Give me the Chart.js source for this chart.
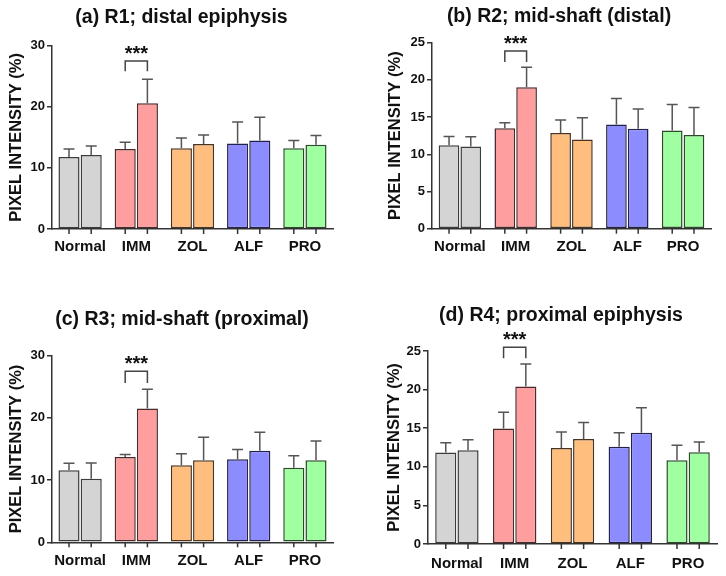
<!DOCTYPE html>
<html>
<head>
<meta charset="utf-8">
<script src="https://cdn.jsdelivr.net/npm/chart.js@4.4.0/dist/chart.umd.min.js"></script>
<style>
html, body { margin: 0; padding: 0; background: #fff; }
#contenedor { position: relative; width: 726px; height: 576px; }
canvas { position: absolute; }
</style>
</head>
<body>
<div id="contenedor">
    <canvas id="r1" width="363" height="288" style="left:0;top:0"></canvas>
    <canvas id="r2" width="363" height="288" style="left:363px;top:0"></canvas>
    <canvas id="r3" width="363" height="288" style="left:0;top:288px"></canvas>
    <canvas id="r4" width="363" height="288" style="left:363px;top:288px"></canvas>
</div>
<script>
// Grupos y colores
const grupos = ["Normal", "IMM", "ZOL", "ALF", "PRO"];
const rellenos = ["#d4d4d4", "#ff9e9e", "#ffbe7e", "#8c8cff", "#a0ffa0"];
const bordes = ["#3c3c3c", "#4a2a2a", "#4a3420", "#22224a", "#2a4a2a"];

// (a) R1
const r1Barra1 = [11.8, 13.1, 13.2, 14.0, 13.2];
const r1Barra2 = [12.1, 20.6, 13.9, 14.5, 13.8];
const r1Error1 = [1.3, 1.1, 1.7, 3.5, 1.3];
const r1Error2 = [1.5, 3.9, 1.5, 3.8, 1.5];

// (b) R2
const r2Barra1 = [11.2, 13.5, 12.85, 14.0, 13.2];
const r2Barra2 = [11.05, 19.0, 12.0, 13.45, 12.6];
const r2Error1 = [1.2, 0.75, 1.75, 3.5, 3.5];
const r2Error2 = [1.3, 2.7, 2.9, 2.65, 3.7];

// (c) R3
const r3Barra1 = [11.6, 13.7, 12.4, 13.35, 12.0];
const r3Barra2 = [10.2, 21.5, 13.2, 14.7, 13.2];
const r3Error1 = [1.1, 0.4, 1.85, 1.55, 1.9];
const r3Error2 = [2.55, 3.1, 3.7, 3.0, 3.1];

// (d) R4
const r4Barra1 = [11.85, 14.95, 12.45, 12.6, 10.85];
const r4Barra2 = [12.15, 20.4, 13.6, 14.4, 11.9];
const r4Error1 = [1.25, 2.1, 2.05, 1.8, 1.95];
const r4Error2 = [1.35, 2.9, 2.15, 3.25, 1.3];

const titulos = ["(a) R1; distal epiphysis", "(b) R2; mid-shaft (distal)",
                 "(c) R3; mid-shaft (proximal)", "(d) R4; proximal epiphysis"];
const ejeMax = [30, 25, 30, 25];
const ejePaso = [10, 5, 10, 5];
// llave de significancia (IMM)
const llaveArriba = [27.5, 23.9, 27.5, 25.5];
const llaveAbajo = [25.8, 22.4, 25.6, 24.05];
const estrellas = "***";

const barras1 = [r1Barra1, r2Barra1, r3Barra1, r4Barra1];
const barras2 = [r1Barra2, r2Barra2, r3Barra2, r4Barra2];
const errores1 = [r1Error1, r2Error1, r3Error1, r4Error1];
const errores2 = [r1Error2, r2Error2, r3Error2, r4Error2];

// posiciones de cada panel (en px dentro de su canvas)
const paneles = [
    { id: "r1", izq: 52, der: 30, arriba: 45.7, abajo: 59,   tx: 181.5, ty: 18, yt: 7,  xp: 9,  cat: 0.79 },
    { id: "r2", izq: 69, der: 15, arriba: 42.7, abajo: 59.3, tx: 196,   ty: 17, yt: 23, xp: 9,  cat: 0.78 },
    { id: "r3", izq: 52, der: 30, arriba: 67.7, abajo: 33.7, tx: 182,   ty: 32, yt: 7,  xp: 10, cat: 0.79 },
    { id: "r4", izq: 65, der: 9,  arriba: 63,   abajo: 32,   tx: 198,   ty: 28, yt: 22, xp: 11, cat: 0.77 }
];

const fuente = "'Liberation Sans', Arial, sans-serif";

// Barras de error, rayas del eje x, llave y título
const extras = {
    id: "extras",
    afterDatasetsDraw(chart, args, op) {
        const ctx = chart.ctx;
        const ejeY = chart.scales.y;
        const area = chart.chartArea;
        ctx.save();
        ctx.strokeStyle = "#555";
        ctx.lineWidth = 1.5;
        chart.data.datasets.forEach((ds, i) => {
            chart.getDatasetMeta(i).data.forEach((b, j) => {
                const yt = ejeY.getPixelForValue(ds.data[j] + ds.errores[j]);
                ctx.beginPath();
                ctx.moveTo(b.x, b.y);
                ctx.lineTo(b.x, yt);
                ctx.moveTo(b.x - 5.5, yt);
                ctx.lineTo(b.x + 5.5, yt);
                ctx.stroke();
                // raya bajo el eje
                ctx.beginPath();
                ctx.strokeStyle = "#333";
                ctx.moveTo(b.x, area.bottom);
                ctx.lineTo(b.x, area.bottom + 5);
                ctx.stroke();
                ctx.strokeStyle = "#555";
            });
        });

        // llave IMM
        const x1 = chart.getDatasetMeta(0).data[1].x;
        const x2 = chart.getDatasetMeta(1).data[1].x;
        const ya = ejeY.getPixelForValue(op.arriba);
        const yb = ejeY.getPixelForValue(op.abajo);
        ctx.strokeStyle = "#444";
        ctx.beginPath();
        ctx.moveTo(x1, yb);
        ctx.lineTo(x1, ya);
        ctx.lineTo(x2, ya);
        ctx.lineTo(x2, yb);
        ctx.stroke();
        ctx.fillStyle = "#111";
        ctx.font = "bold 20px " + fuente;
        ctx.textAlign = "center";
        ctx.textBaseline = "alphabetic";
        ctx.fillText(estrellas, (x1 + x2) / 2, ya - 1);

        // título del panel
        ctx.font = "bold 19.5px " + fuente;
        ctx.textBaseline = "middle";
        ctx.fillText(op.titulo, op.tx, op.ty);
        ctx.restore();
    }
};

paneles.forEach((p, k) => {
    const ctx = document.getElementById(p.id).getContext("2d");
    new Chart(ctx, {
        type: "bar",
        data: {
            labels: grupos,
            datasets: [
                { data: barras1[k], errores: errores1[k], backgroundColor: rellenos, borderColor: bordes,
                  borderWidth: 1.5, borderSkipped: false },
                { data: barras2[k], errores: errores2[k], backgroundColor: rellenos, borderColor: bordes,
                  borderWidth: 1.5, borderSkipped: false }
            ]
        },
        options: {
            responsive: false,
            animation: false,
            devicePixelRatio: 1,
            categoryPercentage: p.cat,
            barPercentage: 0.95,
            layout: { padding: { left: 0, right: p.der, top: p.arriba, bottom: 0 } },
            plugins: {
                legend: { display: false },
                tooltip: { enabled: false },
                title: { display: false },
                extras: { arriba: llaveArriba[k], abajo: llaveAbajo[k], titulo: titulos[k], tx: p.tx, ty: p.ty }
            },
            scales: {
                x: {
                    grid: { display: false, drawTicks: false },
                    border: { display: true, color: "#333", width: 1.5 },
                    ticks: { color: "#111", padding: p.xp, maxRotation: 0, minRotation: 0, autoSkip: false,
                             font: { family: fuente, size: 15, weight: "bold" } },
                    afterFit: (eje) => { eje.height = p.abajo; }
                },
                y: {
                    min: 0,
                    max: ejeMax[k],
                    ticks: { stepSize: ejePaso[k], color: "#111", padding: 2,
                             font: { family: fuente, size: 13, weight: "bold" } },
                    grid: { drawOnChartArea: false, drawTicks: true, tickLength: 5, color: "#333", lineWidth: 1.5 },
                    border: { display: true, color: "#333", width: 1.5 },
                    title: { display: true, text: "PIXEL INTENSITY (%)", color: "#111",
                             padding: { top: p.yt, bottom: 0 },
                             font: { family: fuente, size: 16.5, weight: "bold", lineHeight: 1.2 } },
                    afterFit: (eje) => { eje.width = p.izq; }
                }
            }
        },
        plugins: [extras]
    });
});
</script>
</body>
</html>
